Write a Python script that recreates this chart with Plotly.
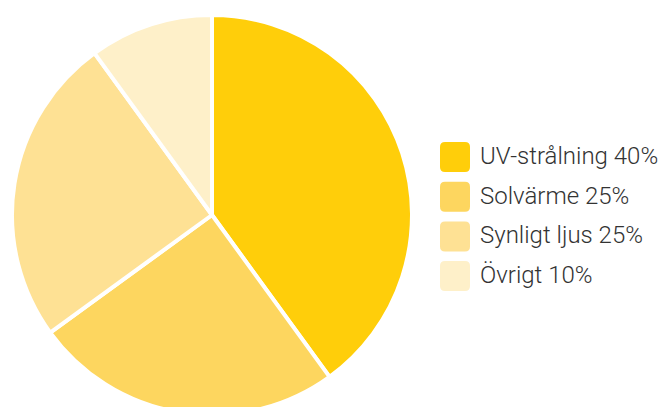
import plotly.graph_objects as go

labels = ["UV-strålning", "Solvärme", "Synligt ljus", "Övrigt"]
values = [40, 25, 25, 10]
colors = ["#FFCE0A", "#FDD65F", "#FEE194", "#FEF0C9"]

W, H = 662, 415

fig = go.Figure()
fig.add_trace(go.Pie(
    labels=labels, values=values, sort=False, direction="clockwise", rotation=0,
    marker=dict(colors=colors, line=dict(color="white", width=4)),
    textinfo="none", hoverinfo="label+percent", showlegend=False,
    domain=dict(x=[12 / W, 412 / W], y=[0, 1 - 15 / H]),
))

# custom legend (rounded swatches + labels)
shapes, annotations = [], []
x0, size, r = 440, 30, 5
y_top0, step = 142, 39.7
for i, (lab, val, col) in enumerate(zip(labels, values, colors)):
    yt = y_top0 + i * step
    yb = yt + size
    x1 = x0 + size
    def px(x):
        return x / W
    def py(y):
        return 1 - y / H
    path = (f"M {px(x0 + r)} {py(yt)} L {px(x1 - r)} {py(yt)} Q {px(x1)} {py(yt)} {px(x1)} {py(yt + r)} "
            f"L {px(x1)} {py(yb - r)} Q {px(x1)} {py(yb)} {px(x1 - r)} {py(yb)} "
            f"L {px(x0 + r)} {py(yb)} Q {px(x0)} {py(yb)} {px(x0)} {py(yb - r)} "
            f"L {px(x0)} {py(yt + r)} Q {px(x0)} {py(yt)} {px(x0 + r)} {py(yt)} Z")
    shapes.append(dict(type="path", xref="paper", yref="paper", path=path,
                       fillcolor=col, line=dict(width=0)))
    annotations.append(dict(xref="paper", yref="paper", x=px(478), y=py(yt + size / 2 - 1),
                            xanchor="left", yanchor="middle", showarrow=False,
                            text=f"{lab} {val}%",
                            font=dict(family="Roboto", size=24, color="#333333", weight=300)))

fig.update_layout(
    width=W, height=H, margin=dict(l=0, r=0, t=0, b=0),
    paper_bgcolor="white", plot_bgcolor="white",
    shapes=shapes, annotations=annotations,
)

fig.write_html("out.html", config={"displayModeBar": False},
               post_script="document.body.style.margin='0';document.body.style.overflow='hidden';document.documentElement.style.overflow='hidden';")
